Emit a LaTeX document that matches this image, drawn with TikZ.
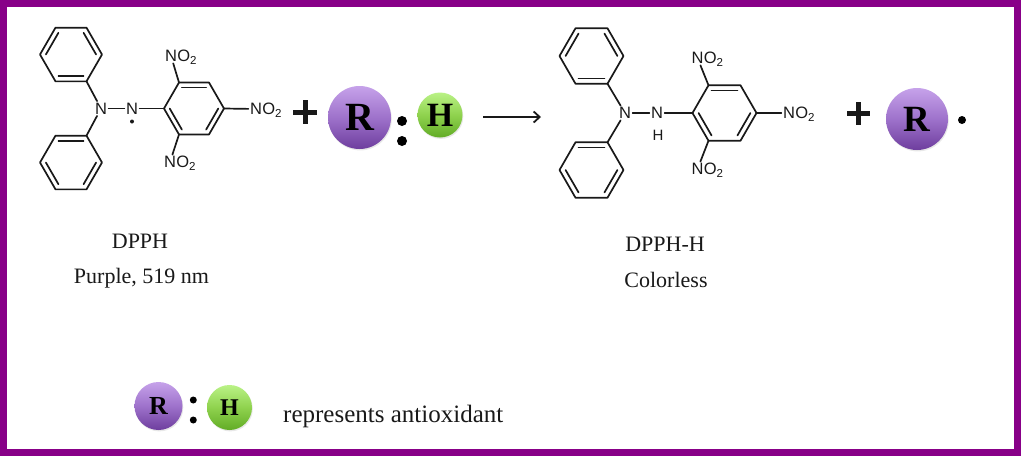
\documentclass[tikz,border=0pt]{standalone}
\usepackage{fontspec}
\setmainfont{Liberation Serif}
\newfontfamily\chemfont{Liberation Sans}
\usetikzlibrary{calc,arrows.meta,shadows}
\definecolor{framecol}{RGB}{136,0,136}
\definecolor{rtop}{RGB}{198,162,234}
\definecolor{rmid}{RGB}{158,114,203}
\definecolor{rbot}{RGB}{110,62,158}
\definecolor{htop}{RGB}{186,242,134}
\definecolor{hmid}{RGB}{143,210,78}
\definecolor{hbot}{RGB}{98,172,38}
\definecolor{ink}{RGB}{25,25,25}
\newcommand{\hexring}[3]{%
  \coordinate (#1c) at #2;
  \foreach \k in {0,...,5} {\coordinate (#1\k) at ($(#1c)+(\k*60:#3)$);}
  \draw[bond] (#10)--(#11)--(#12)--(#13)--(#14)--(#15)--cycle;}
\newcommand{\dbond}[3]{\draw[bond] ($(#1)!0.19!(#3)$) -- ($(#2)!0.19!(#3)$);}
\tikzset{
  bond/.style={line width=1.7pt, draw=ink, line cap=round, line join=round},
  atom/.style={font=\chemfont\fontsize{16.5}{18}\selectfont, inner sep=1.5pt, text=ink},
  subtxt/.style={font=\chemfont\fontsize{16.5}{18}\selectfont, inner sep=0pt, text=ink, anchor=base west},
  rball/.style={circle, inner sep=0pt, minimum size=#1, top color=rtop, bottom color=rbot, middle color=rmid,
     drop shadow={opacity=0.18, shadow xshift=0.8pt, shadow yshift=-1.4pt}},
  hball/.style={circle, inner sep=0pt, minimum size=#1, top color=htop, bottom color=hbot, middle color=hmid,
     drop shadow={opacity=0.18, shadow xshift=0.8pt, shadow yshift=-1.4pt}},
  plusbar/.style={line width=5pt, draw=ink},
  label/.style={font=\fontsize{22}{26}\selectfont, inner sep=0pt, anchor=base, text=ink},
}
\begin{document}
\begin{tikzpicture}[x=1pt,y=-1pt]
\useasboundingbox (0,0) rectangle (1021,456);
\fill[white] (0,0) rectangle (1021,456);
\draw[framecol, line width=6.5pt] (3.5,3.5) rectangle (1017.5,452.5);

% ---------- DPPH (left) ----------
\hexring{LA}{(71,54.5)}{31}
\dbond{LA3}{LA4}{LAc}\dbond{LA5}{LA0}{LAc}\dbond{LA1}{LA2}{LAc}
\hexring{LB}{(71,162.5)}{31}
\dbond{LB4}{LB5}{LBc}\dbond{LB0}{LB1}{LBc}\dbond{LB2}{LB3}{LBc}
\hexring{LC}{(194,108.5)}{30}
\dbond{LC4}{LC5}{LCc}\dbond{LC0}{LC1}{LCc}\dbond{LC2}{LC3}{LCc}
\node[atom] (LN1) at (101,108.5) {N};
\node[atom] (LN2) at (132,108.5) {N};
\node[circle, fill=ink, inner sep=0pt, minimum size=4pt] (Lrad) at (132,121.5) {};
\node[atom] (LNt) at (171,56) {N};
\node[subtxt] (LOt) at ([xshift=-1.5pt]LNt.base east) {O\textsubscript{2}};
\node[atom] (LNb) at (170,162) {N};
\node[subtxt] (LOb) at ([xshift=-1.5pt]LNb.base east) {O\textsubscript{2}};
\node[atom] (LNr) at (256,109) {N};
\node[subtxt] (LOr) at ([xshift=-1.5pt]LNr.base east) {O\textsubscript{2}};
\draw[bond] (LA1) -- (LN1);
\draw[bond] (LB5) -- (LN1);
\draw[bond] (LN1) -- (LN2);
\draw[bond] (LN2) -- (LC3);
\draw[bond] (LC4) -- (LNt);
\draw[bond] (LC2) -- (LNb);
\draw[bond] (LC0) -- (LNr);

\node[label] (dpph) at (140,248) {DPPH};
\node[label] (purple) at (141.5,283) {Purple, 519 nm};

% ---------- plus + R:H ----------
\draw[plusbar] (293,112) -- (317,112) (305,100) -- (305,124);
\node[rball=63pt, font=\bfseries\fontsize{40}{42}\selectfont] (R1) at (359.5,117.5) {R};
\node[circle, fill=black, inner sep=0pt, minimum size=10pt] (c1a) at (402,121) {};
\node[circle, fill=black, inner sep=0pt, minimum size=10pt] (c1b) at (402,141) {};
\node[hball=45pt, font=\bfseries\fontsize{34}{36}\selectfont] (H1) at (440,115) {H};

% ---------- arrow ----------
\coordinate (arrS) at (483,117);
\coordinate (arrE) at (541,117);
\draw[line width=2pt, draw=ink, -{Straight Barb[length=6pt, width=11pt, line width=1.8pt]}] (arrS) -- (arrE);

% ---------- DPPH-H (right) ----------
\hexring{RA}{(591.5,56)}{32}
\dbond{RA3}{RA4}{RAc}\dbond{RA5}{RA0}{RAc}\dbond{RA1}{RA2}{RAc}
\hexring{RB}{(591.5,170)}{32}
\dbond{RB4}{RB5}{RBc}\dbond{RB0}{RB1}{RBc}\dbond{RB2}{RB3}{RBc}
\hexring{RC}{(724.5,113)}{32}
\dbond{RC4}{RC5}{RCc}\dbond{RC0}{RC1}{RCc}\dbond{RC2}{RC3}{RCc}
\node[atom] (RN1) at (625,113) {N};
\node[atom] (RN2) at (657,113) {N};
\node[atom, font=\chemfont\fontsize{15}{17}\selectfont] (RH) at (658,135) {H};
\node[atom] (RNt) at (697.5,58) {N};
\node[subtxt] (ROt) at ([xshift=-1.5pt]RNt.base east) {O\textsubscript{2}};
\node[atom] (RNb) at (697.5,169) {N};
\node[subtxt] (ROb) at ([xshift=-1.5pt]RNb.base east) {O\textsubscript{2}};
\node[atom] (RNr) at (789,113) {N};
\node[subtxt] (ROr) at ([xshift=-1.5pt]RNr.base east) {O\textsubscript{2}};
\draw[bond] (RA1) -- (RN1);
\draw[bond] (RB5) -- (RN1);
\draw[bond] (RN1) -- (RN2);
\draw[bond] (RN2) -- (RC3);
\draw[bond] (RC4) -- (RNt);
\draw[bond] (RC2) -- (RNb);
\draw[bond] (RC0) -- (RNr);

\node[label] (dpphh) at (665,251) {DPPH-H};
\node[label] (colorless) at (666,287) {Colorless};

% ---------- plus R. ----------
\draw[plusbar] (847,113.5) -- (870,113.5) (858.5,102) -- (858.5,125);
\node[rball=62pt, font=\bfseries\fontsize{37}{39}\selectfont] (R2) at (917,119) {R};
\node[circle, fill=black, inner sep=0pt, minimum size=8pt] (rdot) at (962,120) {};

% ---------- legend ----------
\node[rball=48pt, font=\bfseries\fontsize{26}{28}\selectfont] (R3) at (158.5,406) {R};
\node[circle, fill=black, inner sep=0pt, minimum size=7pt] (c3a) at (193.3,400) {};
\node[circle, fill=black, inner sep=0pt, minimum size=7pt] (c3b) at (193.3,420) {};
\node[hball=45pt, font=\bfseries\fontsize{24}{26}\selectfont] (H3) at (229.5,407.5) {H};
\node[font=\fontsize{25}{28}\selectfont, inner sep=0pt, anchor=base west, text=ink] (legend) at (283,422) {represents antioxidant};
\end{tikzpicture}
\end{document}
